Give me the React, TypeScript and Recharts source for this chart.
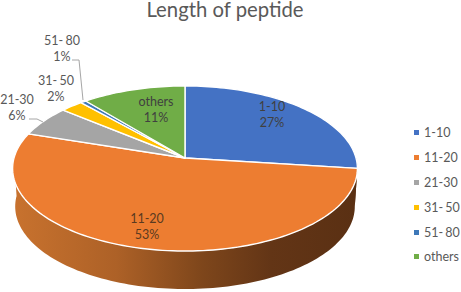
import React from "react";
import { PieChart, Pie, Legend } from "recharts";

const categories = ["1-10", "11-20", "21-30", "31- 50", "51- 80", "others"];
const shares = [27, 53, 6, 2.4, 0.6, 11];
const colors = ["#4472C4", "#ED7D31", "#A5A5A5", "#FFC000", "#3D78B8", "#70AD47"];
const chartTitle = "Length of peptide";

const rows = categories.map((name, i) => ({ name, value: shares[i], fill: colors[i] }));

// layout only: projection of the pie's circle into a tilted disc
const TILT = 0.475;
const PERSPECTIVE = 0.127;
const DEPTH = 38;
const WALL_TAPER = 0.985;
const FONT = "Lato, 'Open Sans', sans-serif";
const TEXT = "#595959";
const labelSpots = [
  { x: 272, y: 107, color: "#404040" },
  { x: 147, y: 219, color: "#5a3a20" },
  { x: 17, y: 100, color: TEXT },
  { x: 56, y: 81, color: TEXT },
  { x: 62, y: 41, color: TEXT },
  { x: 156, y: 102, color: "#404040" },
];
const leaders: Record<number, string> = {
  2: "29,119 37,119 43,122",
  4: "72,60 79,60 83,100",
};

function project(cx: number, cy: number, r: number, deg: number) {
  const a = (deg * Math.PI) / 180;
  const u = Math.cos(a);
  const v = -Math.sin(a);
  const w = 1 - PERSPECTIVE * v;
  return { x: cx + (r * u) / w, y: cy + (r * TILT * v) / w };
}

function arcPoints(cx: number, cy: number, r: number, from: number, to: number) {
  const n = Math.max(2, Math.ceil(Math.abs(to - from) / 1.5));
  const pts = [];
  for (let i = 0; i <= n; i++) pts.push(project(cx, cy, r, from + ((to - from) * i) / n));
  return pts;
}

const toPath = (pts: { x: number; y: number }[]) =>
  pts.map((p, i) => `${i ? "L" : "M"}${p.x.toFixed(2)},${p.y.toFixed(2)}`).join(" ");

function DiscSector(props: any) {
  const { cx, cy, outerRadius: r, startAngle, endAngle, fill, index } = props;
  const rim = arcPoints(cx, cy, r, startAngle, endAngle);
  const top = `M${cx},${cy} ${toPath(rim).replace("M", "L")} Z`;
  // front wall: the part of the rim that lies on the lower half of the disc
  const hi = Math.min(startAngle, 0);
  const lo = Math.max(endAngle, -180);
  let wall = null;
  if (hi > lo) {
    const front = arcPoints(cx, cy, r, hi, lo);
    const lower = front.map((p) => ({ x: cx + (p.x - cx) * WALL_TAPER, y: p.y + DEPTH })).reverse();
    wall = <path d={`${toPath(front)} ${toPath(lower).replace("M", "L")} Z`} fill={`url(#wall${index})`} />;
  }
  return (
    <g>
      <defs>
        <linearGradient id={`wall${index}`} gradientUnits="userSpaceOnUse" x1={cx - r} x2={cx + r} y1="0" y2="0">
          <stop offset="0" stopColor="#C8722E" />
          <stop offset="0.3" stopColor="#AD6127" />
          <stop offset="0.55" stopColor="#7E461B" />
          <stop offset="0.75" stopColor="#633516" />
          <stop offset="1" stopColor="#5A3013" />
        </linearGradient>
      </defs>
      {wall}
      <path d={top} fill={fill} stroke="#FFFFFF" strokeWidth={1.4} strokeLinejoin="round" />
    </g>
  );
}

function SliceLabel(props: any) {
  const { index, percent } = props;
  const spot = labelSpots[index];
  return (
    <g>
      {leaders[index] && <polyline points={leaders[index]} fill="none" stroke="#A6A6A6" strokeWidth={1} />}
      <text textAnchor="middle" fontFamily={FONT} fontSize={12.5} fill={spot.color} wordSpacing={-1}>
        <tspan x={spot.x} y={spot.y + 4}>{categories[index]}</tspan>
        <tspan x={spot.x} y={spot.y + 20}>{`${Math.round(percent * 100)}%`}</tspan>
      </text>
    </g>
  );
}

function LegendList(props: any) {
  return (
    <div style={{ fontFamily: FONT, fontSize: 12.5, color: TEXT, wordSpacing: -1 }}>
      {(props.payload || []).map((item: any) => (
        <div key={item.value} style={{ display: "flex", alignItems: "center", height: 24.9, whiteSpace: "pre" }}>
          <span style={{ width: 5, height: 5, background: item.color, marginRight: 5, display: "inline-block" }} />
          {item.value}
        </div>
      ))}
    </div>
  );
}

export default function App() {
  return (
    <div style={{ position: "absolute", left: 0, top: 0, width: 461, height: 292, background: "#fff", overflow: "hidden" }}>
      <div style={{ position: "absolute", left: 0, top: 0, width: 450, textAlign: "center", fontFamily: FONT, fontSize: 20.3, lineHeight: "18px", color: TEXT, zIndex: 1 }}>
        {chartTitle}
      </div>
      <PieChart width={461} height={292} margin={{ top: 0, right: 0, bottom: 0, left: 0 }}>
        <Pie
          data={rows}
          dataKey="value"
          nameKey="name"
          cx={185}
          cy={158}
          outerRadius={171}
          startAngle={90}
          endAngle={-270}
          isAnimationActive={false}
          shape={DiscSector}
          label={SliceLabel}
          labelLine={false}
          rootTabIndex={-1}
        />
        <Legend
          layout="vertical"
          content={LegendList}
          wrapperStyle={{ position: "absolute", left: 414, top: 120, width: 47, margin: 0 }}
        />
      </PieChart>
    </div>
  );
}
